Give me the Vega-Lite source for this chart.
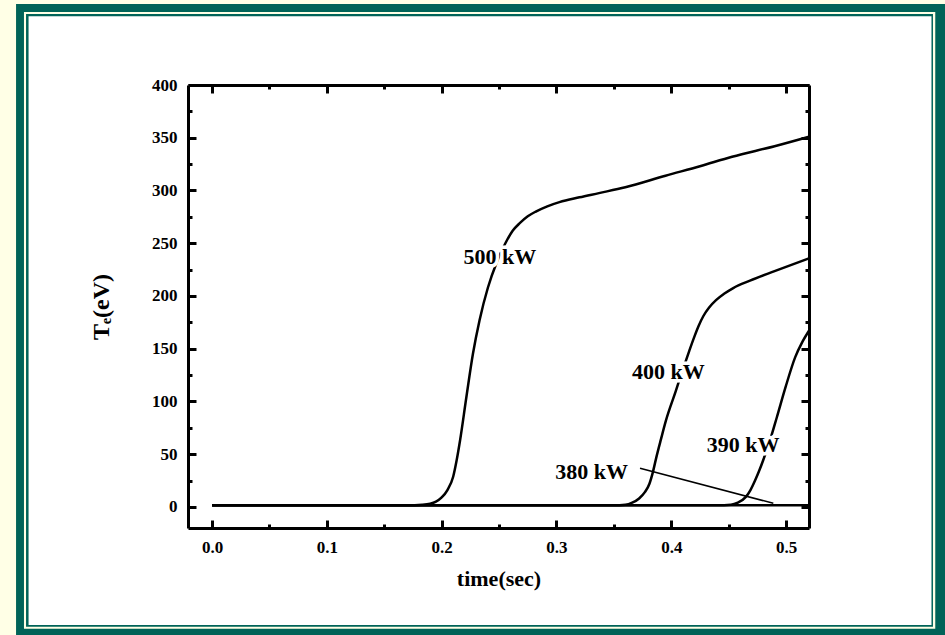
{
  "$schema": "https://vega.github.io/schema/vega-lite/v6.json",
  "width": 621,
  "height": 443,
  "autosize": "none",
  "padding": {"left": 188, "top": 85, "right": 136, "bottom": 107},
  "background": "#FFFFE6",
  "config": {"view": {"stroke": null}},
  "datasets": {
    "curves": [
      {"series": "500 kW", "t": 0, "v": 1.5}, {"series": "500 kW", "t": 0.1, "v": 1.5}, {"series": "500 kW", "t": 0.17, "v": 1.5},
      {"series": "500 kW", "t": 0.183, "v": 2}, {"series": "500 kW", "t": 0.19, "v": 3}, {"series": "500 kW", "t": 0.195, "v": 5},
      {"series": "500 kW", "t": 0.2, "v": 9}, {"series": "500 kW", "t": 0.205, "v": 16}, {"series": "500 kW", "t": 0.21, "v": 28.6},
      {"series": "500 kW", "t": 0.213, "v": 44}, {"series": "500 kW", "t": 0.216, "v": 63}, {"series": "500 kW", "t": 0.2215, "v": 104},
      {"series": "500 kW", "t": 0.2272, "v": 145}, {"series": "500 kW", "t": 0.233, "v": 177}, {"series": "500 kW", "t": 0.2403, "v": 208},
      {"series": "500 kW", "t": 0.248, "v": 232}, {"series": "500 kW", "t": 0.2555, "v": 250}, {"series": "500 kW", "t": 0.262, "v": 262},
      {"series": "500 kW", "t": 0.268, "v": 269}, {"series": "500 kW", "t": 0.275, "v": 275.5}, {"series": "500 kW", "t": 0.282, "v": 280},
      {"series": "500 kW", "t": 0.292, "v": 285}, {"series": "500 kW", "t": 0.3026, "v": 289}, {"series": "500 kW", "t": 0.32, "v": 293.5},
      {"series": "500 kW", "t": 0.337, "v": 297.5}, {"series": "500 kW", "t": 0.36, "v": 303}, {"series": "500 kW", "t": 0.395, "v": 314},
      {"series": "500 kW", "t": 0.425, "v": 323}, {"series": "500 kW", "t": 0.453, "v": 332}, {"series": "500 kW", "t": 0.49, "v": 342},
      {"series": "500 kW", "t": 0.52, "v": 351},
      {"series": "400 kW", "t": 0, "v": 1.5}, {"series": "400 kW", "t": 0.2, "v": 1.5}, {"series": "400 kW", "t": 0.35, "v": 1.5},
      {"series": "400 kW", "t": 0.36, "v": 2}, {"series": "400 kW", "t": 0.366, "v": 4}, {"series": "400 kW", "t": 0.372, "v": 8},
      {"series": "400 kW", "t": 0.377, "v": 14}, {"series": "400 kW", "t": 0.381, "v": 22}, {"series": "400 kW", "t": 0.384, "v": 33},
      {"series": "400 kW", "t": 0.387, "v": 47}, {"series": "400 kW", "t": 0.391, "v": 64}, {"series": "400 kW", "t": 0.3954, "v": 82},
      {"series": "400 kW", "t": 0.404, "v": 110}, {"series": "400 kW", "t": 0.41, "v": 130}, {"series": "400 kW", "t": 0.4157, "v": 148},
      {"series": "400 kW", "t": 0.42, "v": 161}, {"series": "400 kW", "t": 0.424, "v": 172}, {"series": "400 kW", "t": 0.428, "v": 181},
      {"series": "400 kW", "t": 0.433, "v": 189}, {"series": "400 kW", "t": 0.439, "v": 196}, {"series": "400 kW", "t": 0.446, "v": 202},
      {"series": "400 kW", "t": 0.454, "v": 207.5}, {"series": "400 kW", "t": 0.4686, "v": 214.5},
      {"series": "400 kW", "t": 0.49, "v": 223.5}, {"series": "400 kW", "t": 0.52, "v": 235.7},
      {"series": "390 kW", "t": 0, "v": 1.5}, {"series": "390 kW", "t": 0.3, "v": 1.5}, {"series": "390 kW", "t": 0.44, "v": 1.5},
      {"series": "390 kW", "t": 0.452, "v": 2}, {"series": "390 kW", "t": 0.458, "v": 4}, {"series": "390 kW", "t": 0.465, "v": 9.5},
      {"series": "390 kW", "t": 0.469, "v": 16}, {"series": "390 kW", "t": 0.473, "v": 25}, {"series": "390 kW", "t": 0.4765, "v": 34},
      {"series": "390 kW", "t": 0.48, "v": 44}, {"series": "390 kW", "t": 0.486, "v": 63}, {"series": "390 kW", "t": 0.492, "v": 85},
      {"series": "390 kW", "t": 0.4997, "v": 114}, {"series": "390 kW", "t": 0.508, "v": 142}, {"series": "390 kW", "t": 0.514, "v": 156},
      {"series": "390 kW", "t": 0.52, "v": 167},
      {"series": "380 kW", "t": 0, "v": 1.5}, {"series": "380 kW", "t": 0.52, "v": 1.5}
    ],
    "labels": [
      {"label": "500 kW", "t": 0.2508, "v": 237.2},
      {"label": "400 kW", "t": 0.3974, "v": 128.2},
      {"label": "390 kW", "t": 0.4627, "v": 58.7},
      {"label": "380 kW", "t": 0.3307, "v": 33.4}
    ],
    "pointer": [
      {"t": 0.3728, "v": 36.6},
      {"t": 0.4889, "v": 3.4}
    ]
  },
  "resolve": {"axis": {"x": "independent", "y": "independent"}},
  "layer": [
    {
      "data": {"values": [{}]},
      "mark": {"type": "rect", "color": "#006358"},
      "encoding": {
        "x": {"datum": -0.1708, "type": "quantitative", "axis": null, "scale": {"domain": [-0.021, 0.52], "nice": false, "zero": false}},
        "x2": {"datum": 0.7},
        "y": {"datum": 476.8, "type": "quantitative", "axis": null, "scale": {"domain": [-20, 400], "nice": false, "zero": false}},
        "y2": {"datum": -140}
      }
    },
    {
      "data": {"values": [{}]},
      "mark": {"type": "rect", "color": "#FFFFE6"},
      "encoding": {
        "x": {"datum": -0.1639, "type": "quantitative", "axis": null},
        "x2": {"datum": 0.63},
        "y": {"datum": 469.2, "type": "quantitative", "axis": null},
        "y2": {"datum": -115.5}
      }
    },
    {
      "data": {"values": [{}]},
      "mark": {"type": "rect", "color": "#006358"},
      "encoding": {
        "x": {"datum": -0.1621, "type": "quantitative", "axis": null},
        "x2": {"datum": 0.628},
        "y": {"datum": 467.3, "type": "quantitative", "axis": null},
        "y2": {"datum": -113.6}
      }
    },
    {
      "data": {"values": [{}]},
      "mark": {"type": "rect", "color": "#FFFFFF"},
      "encoding": {
        "x": {"datum": -0.1599, "type": "quantitative", "axis": null},
        "x2": {"datum": 0.6267},
        "y": {"datum": 465.1, "type": "quantitative", "axis": null},
        "y2": {"datum": -112.0}
      }
    },
    {
      "data": {"name": "curves"},
      "mark": {"type": "line", "color": "black", "strokeWidth": 2.5, "interpolate": "monotone"},
      "encoding": {
        "x": {
          "field": "t", "type": "quantitative",
          "axis": {
            "orient": "bottom",
            "values": [0, 0.05, 0.1, 0.15, 0.2, 0.25, 0.3, 0.35, 0.4, 0.45, 0.5],
            "labelExpr": "round(datum.value*100) % 10 == 0 ? format(datum.value, '.1f') : ''",
            "tickSize": {"condition": {"test": "round(datum.value*100) % 10 == 0", "value": -8}, "value": -4},
            "tickWidth": 3, "tickColor": "black", "domainColor": "black", "domainWidth": 3,
            "labelFont": "Liberation Serif", "labelFontWeight": "bold", "labelFontSize": 17, "labelColor": "black",
            "labelPadding": 19, "labelOverlap": false, "labelFlush": false,
            "title": "time(sec)", "titleFont": "Liberation Serif", "titleFontWeight": "bold", "titleFontSize": 22,
            "titleColor": "black", "titlePadding": 9,
            "grid": false, "zindex": 1
          }
        },
        "y": {
          "field": "v", "type": "quantitative",
          "axis": {
            "orient": "left",
            "values": [0, 25, 50, 75, 100, 125, 150, 175, 200, 225, 250, 275, 300, 325, 350, 375, 400],
            "labelExpr": "datum.value % 50 == 0 ? datum.label : ''",
            "tickSize": {"condition": {"test": "datum.value % 50 == 0", "value": -8}, "value": -4},
            "tickWidth": 3, "tickColor": "black", "domainColor": "black", "domainWidth": 3,
            "labelFont": "Liberation Serif", "labelFontWeight": "bold", "labelFontSize": 17, "labelColor": "black",
            "labelPadding": 19, "labelOverlap": false, "labelFlush": false,
            "title": "Tₑ(eV)", "titleFont": "Liberation Serif", "titleFontWeight": "bold", "titleFontSize": 24,
            "titleColor": "black", "titlePadding": 38,
            "grid": false, "zindex": 1
          }
        },
        "detail": {"field": "series"}
      }
    },
    {
      "data": {"name": "pointer"},
      "mark": {"type": "line", "color": "black", "strokeWidth": 1.5},
      "encoding": {
        "x": {
          "field": "t", "type": "quantitative",
          "axis": {
            "orient": "top",
            "values": [0, 0.05, 0.1, 0.15, 0.2, 0.25, 0.3, 0.35, 0.4, 0.45, 0.5],
            "labels": false,
            "tickSize": {"condition": {"test": "round(datum.value*100) % 10 == 0", "value": -8}, "value": -4},
            "tickWidth": 3, "tickColor": "black", "domainColor": "black", "domainWidth": 3,
            "title": null, "grid": false, "zindex": 1
          }
        },
        "y": {
          "field": "v", "type": "quantitative",
          "axis": {
            "orient": "right",
            "values": [0, 25, 50, 75, 100, 125, 150, 175, 200, 225, 250, 275, 300, 325, 350, 375, 400],
            "labels": false,
            "tickSize": {"condition": {"test": "datum.value % 50 == 0", "value": -8}, "value": -4},
            "tickWidth": 3, "tickColor": "black", "domainColor": "black", "domainWidth": 3,
            "title": null, "grid": false, "zindex": 1
          }
        }
      }
    },
    {
      "data": {"name": "labels"},
      "mark": {"type": "text", "font": "Liberation Serif", "fontWeight": "bold", "fontSize": 22, "color": "white", "stroke": "white", "strokeWidth": 7, "strokeJoin": "round"},
      "encoding": {
        "x": {"field": "t", "type": "quantitative", "axis": null},
        "y": {"field": "v", "type": "quantitative", "axis": null},
        "text": {"field": "label"}
      }
    },
    {
      "data": {"name": "labels"},
      "mark": {"type": "text", "font": "Liberation Serif", "fontWeight": "bold", "fontSize": 22, "color": "black"},
      "encoding": {
        "x": {"field": "t", "type": "quantitative", "axis": null},
        "y": {"field": "v", "type": "quantitative", "axis": null},
        "text": {"field": "label"}
      }
    }
  ]
}
